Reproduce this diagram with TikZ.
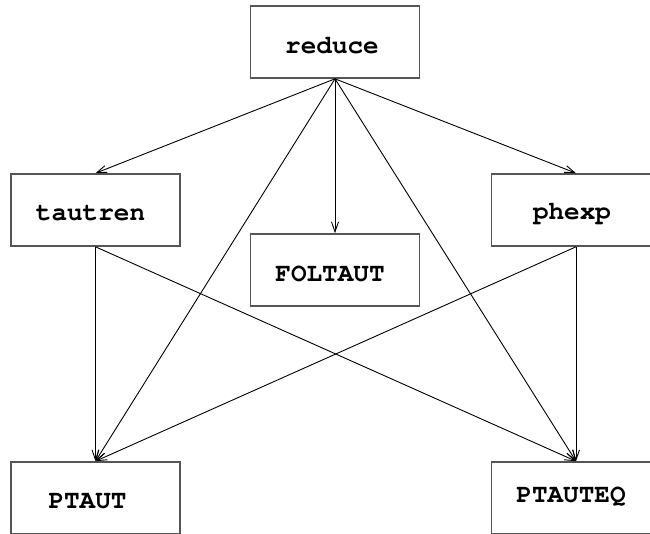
\documentclass[tikz,border=0pt]{standalone}
\usepackage[T1]{fontenc}
\usetikzlibrary{arrows.meta}
\definecolor{boxgray}{HTML}{555555}
\tikzset{
  modbox/.style={draw=boxgray, line width=1.6pt, rectangle, minimum width=169pt, minimum height=72pt, inner sep=0pt},
  boxtext/.style={font=\fontfamily{pcr}\fontseries{b}\fontsize{26}{30}\selectfont, text=black},
  dep/.style={draw=black, line width=0.9pt, -{Straight Barb[length=10pt,width=7pt,line width=0.9pt]}}
}
\begin{document}
\begin{tikzpicture}[x=1pt,y=-1pt]
\useasboundingbox (0,0) rectangle (650,533);
\clip (0,0) rectangle (650,533);
\fill[white] (0,0) rectangle (650,533);
\node[modbox, label={[boxtext, xshift=-3pt, yshift=-4pt]center:reduce}] (reduce) at (335,42) {};
\node[modbox, label={[boxtext, xshift=-5pt, yshift=-4pt]center:tautren}] (tautren) at (95.5,210) {};
\node[modbox, label={[boxtext, xshift=-4pt, yshift=-3pt]center:phexp}] (phexp) at (576,210) {};
\node[modbox, label={[boxtext, xshift=-5pt, yshift=-4pt]center:FOLTAUT}] (foltaut) at (335,270) {};
\node[modbox, label={[boxtext, xshift=-8pt, yshift=-4pt]center:PTAUT}] (ptaut) at (95.5,498) {};
\node[modbox, label={[boxtext, xshift=-5pt, yshift=1pt]center:PTAUTEQ}] (ptauteq) at (576,498) {};
\draw[dep] (reduce.south) -- (tautren.north);
\draw[dep] (reduce.south) -- (foltaut.north);
\draw[dep] (reduce.south) -- (phexp.north);
\draw[dep] (reduce.south) -- (ptaut.north);
\draw[dep] (reduce.south) -- (ptauteq.north);
\draw[dep] (tautren.south) -- (ptaut.north);
\draw[dep] (tautren.south) -- (ptauteq.north);
\draw[dep] (phexp.south) -- (ptaut.north);
\draw[dep] (phexp.south) -- (ptauteq.north);
\end{tikzpicture}
\end{document}
